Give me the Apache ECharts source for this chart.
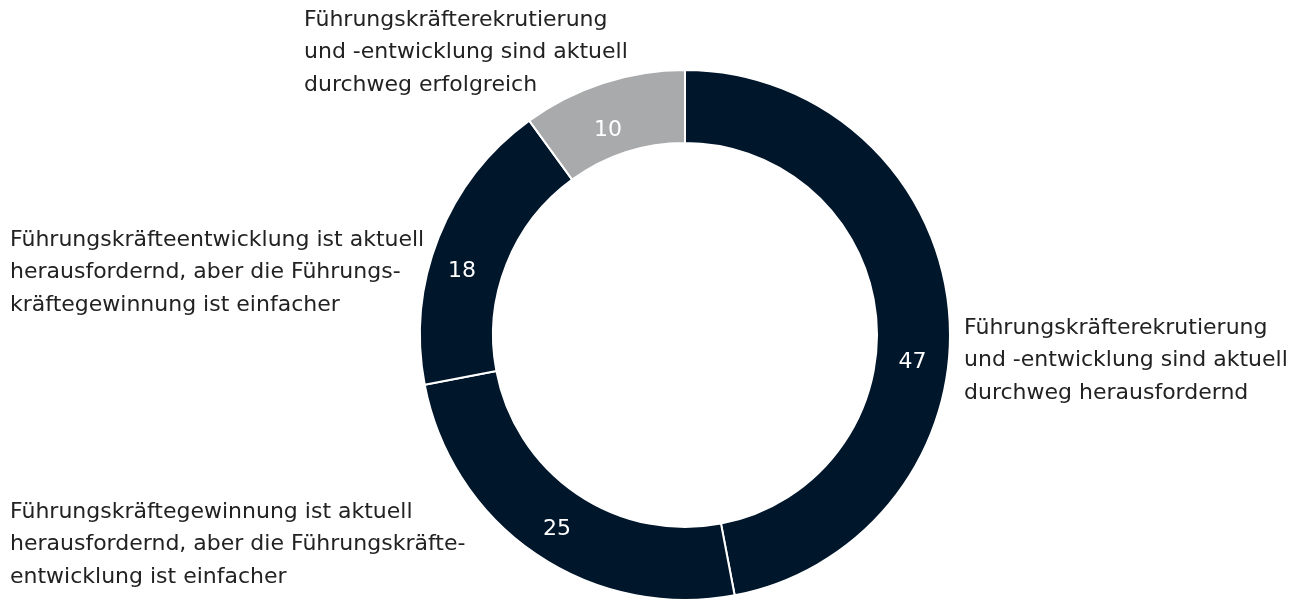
<!DOCTYPE html>
<html>
<head>
<meta charset="utf-8">
<script src="https://cdn.jsdelivr.net/npm/echarts@6/dist/echarts.min.js"></script>
<style>
  html, body { margin: 0; padding: 0; background: #fff; }
  #chart-box { width: 1290px; height: 600px; }
</style>
</head>
<body>
<div id="chart-box"></div>
<script>
// Kategorien im Uhrzeigersinn ab 12 Uhr
var categories = [
	"Führungskräfterekrutierung\nund -entwicklung sind aktuell\ndurchweg herausfordernd",
	"Führungskräftegewinnung ist aktuell\nherausfordernd, aber die Führungskräfte-\nentwicklung ist einfacher",
	"Führungskräfteentwicklung ist aktuell\nherausfordernd, aber die Führungs-\nkräftegewinnung ist einfacher",
	"Führungskräfterekrutierung\nund -entwicklung sind aktuell\ndurchweg erfolgreich"
]
var values = [47, 25, 18, 10]
var colors = ["#00162b", "#00162b", "#00162b", "#a8aaab"]

// Position der Beschriftungen (links oben)
var labelPos = [
	[964, 312],
	[10, 496],
	[10, 224],
	[304, 4]
]
// Zahlen im Ring: Winkel (Grad, im Uhrzeigersinn ab 12 Uhr) und Radius
var numAngle = [96.8, 213.3, 286, 339.4]
var numRadius = [229, 233, 232, 219]

var cx = 685, cy = 335
var fontName = "DejaVu Sans"
var chart = echarts.init(document.getElementById("chart-box"))

var pieData = []
for (var i = 0; i < values.length; i++) {
	pieData.push({ name: categories[i], value: values[i], itemStyle: { color: colors[i] } })
}

var texts = []
for (var j = 0; j < categories.length; j++) {
	texts.push({
		type: "text",
		left: labelPos[j][0],
		top: labelPos[j][1],
		silent: true,
		style: {
			text: categories[j],
			fill: "#222",
			fontSize: 22,
			lineHeight: 32.5,
			fontFamily: fontName
		}
	})
}

var option = {
	animation: false,
	textStyle: { fontFamily: fontName },
	graphic: texts,
	series: [
		{
			type: "pie",
			center: [cx, cy],
			radius: [192, 265],
			startAngle: 90,
			avoidLabelOverlap: false,
			itemStyle: { borderColor: "#fff", borderWidth: 2 },
			label: {
				show: true,
				position: "inside",
				formatter: "{c}",
				color: "#fff",
				fontSize: 22,
				fontFamily: fontName
			},
			labelLayout: function (params) {
				var a = numAngle[params.dataIndex] * Math.PI / 180
				var r = numRadius[params.dataIndex]
				return {
					x: cx + r * Math.sin(a),
					y: cy - r * Math.cos(a),
					align: "center",
					verticalAlign: "middle"
				}
			},
			labelLine: { show: false },
			emphasis: { disabled: true },
			data: pieData
		}
	]
}
chart.setOption(option)
</script>
</body>
</html>
